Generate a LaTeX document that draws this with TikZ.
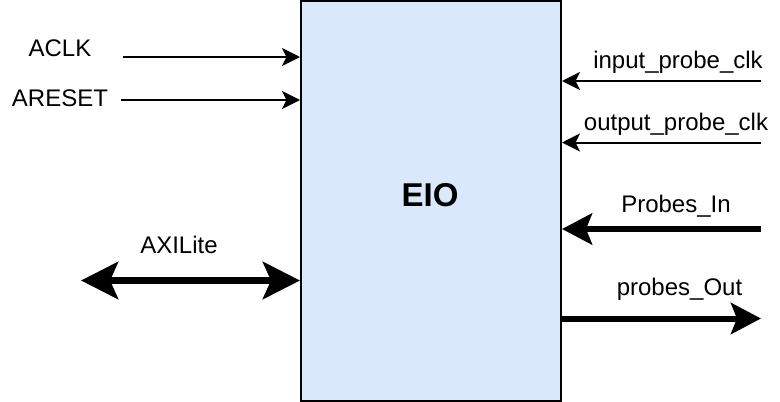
\documentclass[tikz,border=0pt]{standalone}
\usepackage{fontspec}
\setmainfont{Liberation Sans}
\usetikzlibrary{arrows.meta}
\definecolor{boxfill}{HTML}{DAE8FC}
\tikzset{
  lbl/.style={anchor=base, inner sep=0pt, font=\fontsize{24}{28}\selectfont},
  thinarrow/.style={line width=2pt, -{Stealth[length=18pt, width=18pt, inset=4.5pt]}},
  thickarrow/.style={line width=6pt, -{Stealth[length=30pt, width=31pt, inset=6pt]}},
  busarrow/.style={line width=7.5pt, {Stealth[length=37pt, width=37pt, inset=8pt]}-{Stealth[length=37pt, width=37pt, inset=8pt]}},
  blockbox/.style={draw=black, line width=2pt, fill=boxfill, minimum width=260pt, minimum height=400pt, inner sep=0pt}
}
\begin{document}
\begin{tikzpicture}[x=1pt, y=-1pt]
\useasboundingbox (0,0) rectangle (780,402);
\node[blockbox] (eio) at (431,201) {};
\node[anchor=base, inner sep=0pt, font=\fontsize{33}{38}\bfseries] (eiolbl) at (430,206) {EIO};

% left labels
\node[lbl] (aclk) at (60,56.5) {ACLK};
\node[lbl] (areset) at (60,106) {ARESET};
\node[lbl] (axil) at (179,253.5) {AXILite};
% right labels
\node[lbl] (ipc) at (678,68.5) {input\_probe\_clk};
\node[lbl] (opc) at (676,130) {output\_probe\_clk};
\node[lbl] (pin) at (676,212.5) {Probes\_In};
\node[lbl] (pout) at (679.5,295) {probes\_Out};

% free ends
\coordinate (aclks) at (123,57);
\coordinate (aresets) at (121,100);
\coordinate (axils) at (81,280.5);
\coordinate (ipcs) at (761,81);
\coordinate (opcs) at (761,142.5);
\coordinate (pins) at (761,229);
\coordinate (pouts) at (761,318.5);

\draw[thinarrow] (aclks) -- (eio.west |- aclks);
\draw[thinarrow] (aresets) -- (eio.west |- aresets);
\draw[busarrow] (axils) -- (eio.west |- axils);
\draw[thinarrow] (ipcs) -- (eio.east |- ipcs);
\draw[thinarrow] (opcs) -- (eio.east |- opcs);
\draw[thickarrow] (pins) -- (eio.east |- pins);
\draw[thickarrow] (eio.east |- pouts) -- (pouts);
\end{tikzpicture}
\end{document}
